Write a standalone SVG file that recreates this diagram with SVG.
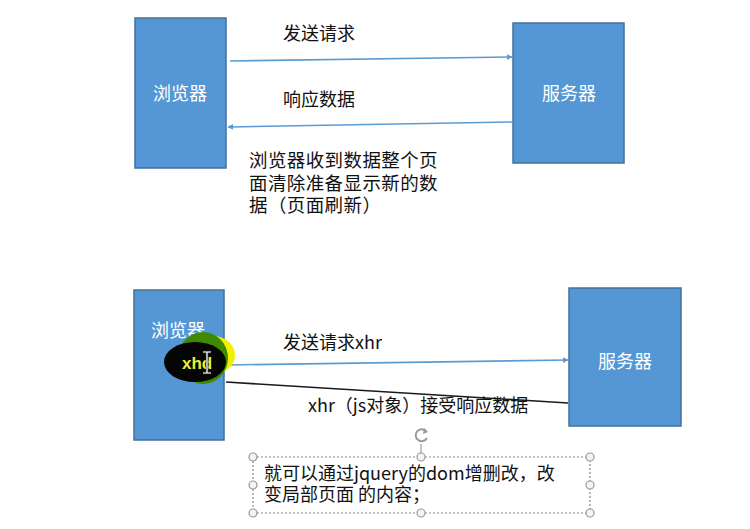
<svg xmlns="http://www.w3.org/2000/svg" width="750" height="529" viewBox="0 0 750 529">
<defs>
<style>
.box{fill:#5597d5;stroke:#41719c;stroke-width:1.5}
.lbl{font-family:"Noto Sans CJK SC","Liberation Sans",sans-serif;font-size:18px;fill:#ffffff}
.txt{font-family:"Noto Sans CJK SC","Liberation Sans",sans-serif;font-size:18px;fill:#111111}
.para{font-family:"Noto Sans CJK SC","Liberation Sans",sans-serif;font-size:18.5px;fill:#111111;letter-spacing:0.4px}
.conn{stroke:#5b9bd5;stroke-width:1.6;fill:none}
.handle{fill:#f4f4f4;stroke:#9a9a9a;stroke-width:1.2}
</style>
<marker id="ah" viewBox="0 0 10 10" refX="9" refY="5" markerWidth="6" markerHeight="6" orient="auto" markerUnits="userSpaceOnUse">
<path d="M0,0 L10,5 L0,10 z" fill="#5b9bd5"/>
</marker>
</defs>
<rect width="750" height="529" fill="#ffffff"/>

<g id="browser-top">
<rect class="box" x="135" y="18" width="91" height="150"/>
<text class="lbl" x="180" y="100" text-anchor="middle">浏览器</text>
</g>
<g id="server-top">
<rect class="box" x="513" y="23" width="111" height="140"/>
<text class="lbl" x="569" y="100" text-anchor="middle">服务器</text>
</g>
<g id="browser-bottom">
<rect class="box" x="134" y="290" width="90" height="150"/>
<text class="lbl" x="178" y="337" text-anchor="middle">浏览器</text>
</g>
<g id="server-bottom">
<rect class="box" x="569" y="288" width="112" height="138"/>
<text class="lbl" x="625" y="368" text-anchor="middle">服务器</text>
</g>

<g id="connectors">
<line class="conn" x1="230" y1="61" x2="512" y2="57" marker-end="url(#ah)"/>
<line class="conn" x1="512" y1="122" x2="228" y2="127" marker-end="url(#ah)"/>
<line class="conn" x1="226" y1="365" x2="568" y2="360" marker-end="url(#ah)"/>
<line x1="226" y1="382" x2="568" y2="403" stroke="#1a1a1a" stroke-width="1.6"/>
</g>

<g id="labels">
<text class="txt" x="283" y="40">发送请求</text>
<text class="txt" x="283" y="106">响应数据</text>
<text class="para" x="249" y="167">浏览器收到数据整个页</text>
<text class="para" x="249" y="190">面清除准备显示新的数</text>
<text class="para" x="249" y="212">据（页面刷新）</text>
<text class="txt" x="283" y="349">发送请求xhr</text>
<text class="txt" x="308" y="412">xhr（js对象）接受响应数据</text>
</g>

<g id="xhr-highlight">
<ellipse cx="213" cy="355" rx="22" ry="19" fill="#f2f000"/>
<ellipse cx="203" cy="358" rx="25" ry="26" fill="#3f8a00"/>
<ellipse cx="195" cy="362" rx="31" ry="20" fill="#050505"/>
<text x="182" y="369" style="font-family:'Liberation Sans',sans-serif;font-size:17px;font-weight:bold;fill:#f0ee30">xhd</text>
<g stroke="#333" stroke-width="2.6" fill="none"><path d="M203,352 h8 M207,352 v21 M203,373 h8"/></g>
<g stroke="#fff" stroke-width="1.2" fill="none"><path d="M203,352 h8 M207,352 v21 M203,373 h8"/></g>
</g>

<g id="note">
<rect x="253" y="457" width="337" height="56" fill="none" stroke="#8a8a8a" stroke-width="1.2" stroke-dasharray="2,2"/>
<line x1="421" y1="444" x2="421" y2="457" stroke="#9a9a9a" stroke-width="1.2"/>
<path d="M426,431 A6,6 0 1 0 427,438" fill="none" stroke="#9a9a9a" stroke-width="2"/>
<path d="M424,428 L428,432 L423,434 z" fill="#9a9a9a"/>
<circle class="handle" cx="253" cy="457" r="4"/>
<circle class="handle" cx="421" cy="457" r="4"/>
<circle class="handle" cx="590" cy="457" r="4"/>
<circle class="handle" cx="253" cy="485" r="4"/>
<circle class="handle" cx="590" cy="485" r="4"/>
<circle class="handle" cx="253" cy="513" r="4"/>
<circle class="handle" cx="421" cy="513" r="4"/>
<circle class="handle" cx="590" cy="513" r="4"/>
<text class="txt" x="264" y="480">就可以通过jquery的dom增删改，改</text>
<text class="txt" x="264" y="501">变局部页面 的内容；</text>
</g>
</svg>
